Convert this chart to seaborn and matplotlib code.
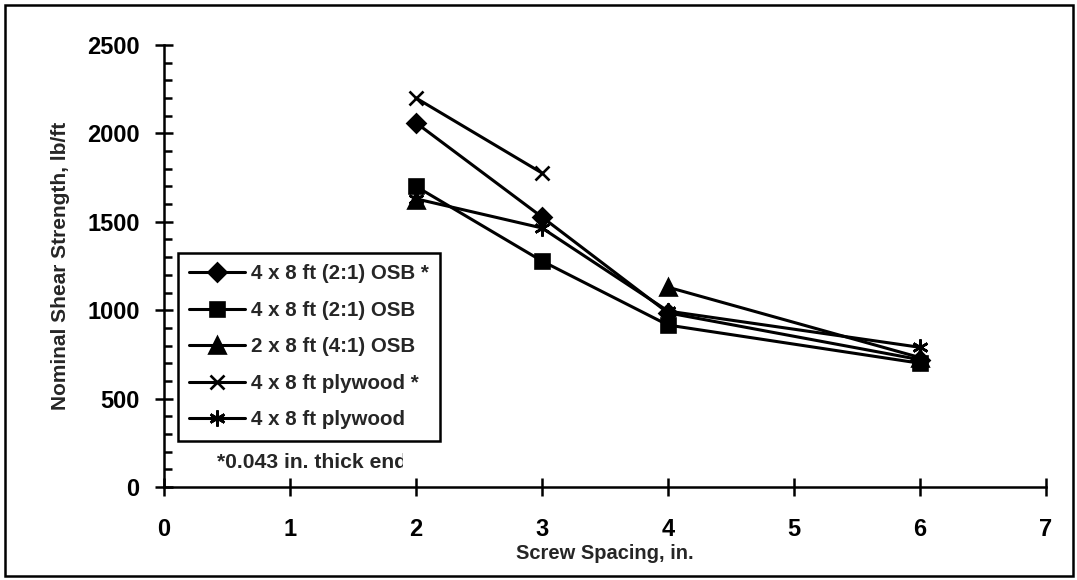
import numpy as np
import pandas as pd
import seaborn as sns
from matplotlib import pyplot as plt
from matplotlib.patches import Rectangle
from matplotlib.ticker import MultipleLocator
from matplotlib.transforms import Bbox, TransformedBbox

# screw spacing, in.
spacing = [2, 3, 4, 6]

# nominal shear strength, lb/ft (nan = no test)
osb_2to1_star = [2060, 1527, 985, 720]
osb_2to1 = [1700, 1278, 916, 700]
osb_4to1 = [1625, np.nan, 1130, 732]
plywood_star = [2200, 1776, np.nan, np.nan]
plywood = [1630, 1465, 995, 790]

series = [osb_2to1_star, osb_2to1, osb_4to1, plywood_star, plywood]
labels = ['4 x 8 ft (2:1) OSB *', '4 x 8 ft (2:1) OSB', '2 x 8 ft (4:1) OSB',
          '4 x 8 ft plywood *', '4 x 8 ft plywood']
markers = ['D', 's', '^', 'x', (6, 2, 0)]
msizes = [9, 10.5, 11, 10.5, 11.5]

x_ticks = list(range(0, 8))
y_ticks = list(range(0, 2501, 500))

sns.set_theme(style='white')
plt.rcParams['font.family'] = ['Liberation Sans', 'DejaVu Sans']
plt.rcParams['font.weight'] = 'bold'

fig = plt.figure(figsize=(10.77, 5.8), dpi=100)
ax = fig.add_axes([164 / 1077, 1 - 487 / 580, (1046 - 164) / 1077, (487 - 45) / 580])

for vals, lab, m, ms in zip(series, labels, markers, msizes):
    df = pd.DataFrame({'x': spacing, 'y': vals})
    # break the line where a value is missing
    df['seg'] = df['y'].isna().cumsum()
    df = df.dropna()
    sns.lineplot(data=df, x='x', y='y', units='seg', estimator=None, sort=False,
                 color='black', lw=2.2, marker=m, ms=ms, mew=1.9,
                 mfc='black', mec='black', label=lab, ax=ax, legend=False)

ax.set_xlim(0, 7)
ax.set_ylim(0, 2500)
ax.set_xticks(x_ticks)
ax.set_yticks(y_ticks)
ax.yaxis.set_minor_locator(MultipleLocator(100))

for s in ['top', 'right']:
    ax.spines[s].set_visible(False)
for s in ['left', 'bottom']:
    ax.spines[s].set_linewidth(1.8)
    ax.spines[s].set_color('black')

ax.tick_params(axis='both', which='major', direction='inout', length=13, width=1.8,
               colors='black', labelsize=17, bottom=True, left=True)
ax.tick_params(axis='x', pad=16)
ax.tick_params(axis='y', pad=11)
ax.tick_params(axis='y', which='minor', direction='in', length=6, width=1.8,
               left=True, color='black')

ax.set_xlabel('Screw Spacing, in.', fontsize=14.5, fontweight='bold', labelpad=2)
ax.set_ylabel('Nominal Shear Strength, lb/ft', fontsize=15, fontweight='bold', labelpad=12)

handles, labs = ax.get_legend_handles_labels()
uniq = dict(zip(labs, handles))
leg = ax.legend(uniq.values(), uniq.keys(), loc='upper left',
                bbox_to_anchor=((178 - 164) / 882, (487 - 253) / 442),
                borderaxespad=0, frameon=True, fancybox=False, framealpha=1,
                edgecolor='black', handlelength=2.7, handletextpad=0.3,
                labelspacing=0.85, borderpad=0.55,
                prop={'size': 14.8, 'weight': 'bold'})
leg.get_frame().set_linewidth(1.8)

# footnote, cut off like in the source
note = fig.text(217 / 1077, 1 - 463 / 580, '*0.043 in. thick end studs',
                fontsize=15.2, fontweight='bold', va='center', ha='left')
note.set_clip_box(TransformedBbox(Bbox([[0, 0], [403 / 1077, 1]]), fig.transFigure))
note.set_clip_on(True)

# outer frame
fig.patches.append(Rectangle((5 / 1077, 4 / 580), 1068 / 1077, 571 / 580,
                             transform=fig.transFigure, fill=False, lw=1.8, ec='black'))

plt.savefig('out.png', dpi=100)
